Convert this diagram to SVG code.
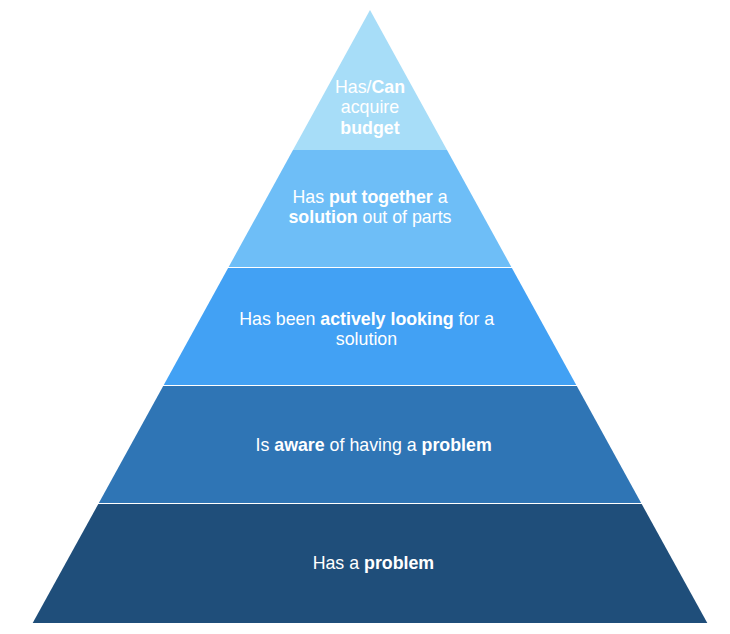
<svg xmlns="http://www.w3.org/2000/svg" width="730" height="634" viewBox="0 0 730 634">
<style>
text{font-family:"Liberation Sans",Arial,sans-serif;font-size:17.8px;fill:#fff;text-anchor:middle}
.b{font-weight:bold}
</style>
<rect width="730" height="634" fill="#fff"/>
<g id="level5">
<polygon points="370,10 447,150 293,150" fill="#A7DDF8"/>
<text x="370" y="92.5">Has/<tspan class="b">Can</tspan></text>
<text x="370" y="113">acquire</text>
<text x="370" y="133.5" class="b">budget</text>
</g>
<g id="level4">
<polygon points="293,150 447,150 511.35,267 228.65,267" fill="#6EBEF7"/>
<text x="370" y="203.3">Has <tspan class="b">put together</tspan> a</text>
<text x="370" y="223.3"><tspan class="b">solution</tspan> out of parts</text>
</g>
<g id="level3">
<polygon points="228.1,268 511.9,268 576.25,385 163.75,385" fill="#42A1F4"/>
<text x="366.7" y="325">Has been <tspan class="b">actively looking</tspan> for a</text>
<text x="366.5" y="345">solution</text>
</g>
<g id="level2">
<polygon points="163.2,386 576.8,386 641.15,503 98.85,503" fill="#2F75B5"/>
<text x="373.6" y="451">Is <tspan class="b">aware</tspan> of having a <tspan class="b">problem</tspan></text>
</g>
<g id="level1">
<polygon points="98.3,504 641.7,504 707.3,623 32.7,623" fill="#1F4E7A"/>
<text x="373.4" y="569.3">Has a <tspan class="b">problem</tspan></text>
</g>
<g id="connectors"/>
</svg>
